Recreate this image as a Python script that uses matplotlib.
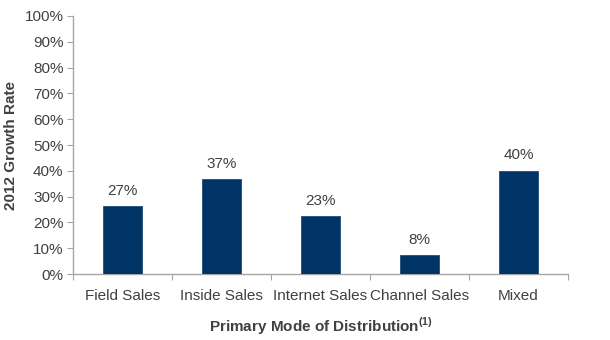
import matplotlib.pyplot as plt
import numpy as np

categories = ['Field Sales', 'Inside Sales', 'Internet Sales', 'Channel Sales', 'Mixed']
growth = [26.4, 36.7, 22.5, 7.4, 40.0]
labels = ['27%', '37%', '23%', '8%', '40%']
yticks = list(range(0, 101, 10))

plt.rcParams['font.family'] = ['Liberation Sans', 'DejaVu Sans']
text_color = '#404040'
bar_color = '#003366'
axis_color = '#A6A6A6'

fig = plt.figure(figsize=(6.1, 3.4), dpi=100)
ax = fig.add_axes([0.12, 0.194, 0.811, 0.759])

x = np.arange(len(categories))
ax.bar(x, growth, width=0.4, color=bar_color, edgecolor='#1F4E79', linewidth=0.6, zorder=3)

for xi, v, lab in zip(x, growth, labels):
    ax.annotate(lab, (xi, v), xytext=(0, 6), textcoords='offset points',
                ha='center', va='bottom', fontsize=11, color=text_color)

ax.set_xlim(-0.5, len(categories) - 0.5)
ax.set_ylim(0, 100)
ax.set_yticks(yticks)
ax.set_yticklabels([f'{t}%' for t in yticks], fontsize=11, color=text_color)

# category labels centred, tick marks on the boundaries
ax.set_xticks(np.arange(len(categories) + 1) - 0.5)
ax.set_xticklabels([])
ax.set_xticks(x, minor=True)
ax.set_xticklabels(categories, minor=True, fontsize=11, color=text_color)
ax.tick_params(axis='x', which='minor', length=0, pad=11)
ax.tick_params(axis='x', which='major', length=4, color=axis_color, direction='out')
ax.tick_params(axis='y', length=4, color=axis_color, direction='out', pad=3)

for s in ['top', 'right']:
    ax.spines[s].set_visible(False)
for s in ['left', 'bottom']:
    ax.spines[s].set_color(axis_color)
    ax.spines[s].set_linewidth(1.0)

ax.set_ylabel('2012 Growth Rate', fontsize=11, fontweight='bold', color=text_color, labelpad=5)
ax.set_xlabel(r'Primary Mode of Distribution$^{\mathregular{(1)}}$', fontsize=11,
              fontweight='bold', color=text_color, labelpad=9)

fig.savefig('out.png', dpi=100)
